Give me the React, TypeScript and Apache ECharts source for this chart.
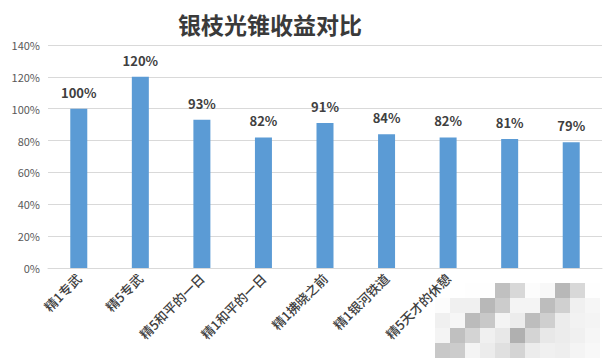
import React, { useEffect, useRef } from "react";
import * as echarts from "echarts";

const titleText = "银枝光锥收益对比";
const categories = [
  "精1专武",
  "精5专武",
  "精5和平的一日",
  "精1和平的一日",
  "精1拂晓之前",
  "精1银河铁道",
  "精5天才的休憩",
  "精1天才的休憩",
  "精5早餐仪式",
];
const values = [100, 120, 93, 82, 91, 84, 82, 81, 79];
const yTicks = [0, 20, 40, 60, 80, 100, 120, 140];

// mosaic overlay (pixelated patch in the reference), grey levels per 15px cell; 0 = none
const mosaicRows = [
  [0, 0, 0xfe, 0xfe, 0xc0, 0xd8, 0xfc, 0xf8, 0xb8, 0xd8, 0xfe],
  [0xfc, 0xf0, 0xf0, 0xb8, 0xcc, 0xf4, 0xf4, 0xbd, 0xd0, 0xf0, 0xf6],
  [0xf0, 0xf6, 0xbb, 0xc8, 0xf4, 0xec, 0xbd, 0xcf, 0xec, 0xf2, 0xf4],
  [0xf4, 0xc0, 0xd4, 0xf0, 0xe8, 0xb0, 0xd4, 0xe8, 0xec, 0xf0, 0xf6],
  [0xc8, 0xcc, 0xf4, 0xec, 0xe0, 0xd4, 0xec, 0xf0, 0xee, 0xf4, 0xf8],
];

export default function App() {
  const ref = useRef<HTMLDivElement>(null);
  useEffect(() => {
    if (!ref.current) return;
    const chart = echarts.init(ref.current, undefined, { renderer: "svg" });
    const font = '"Noto Sans CJK SC", "Noto Sans", sans-serif';
    const mosaic: any[] = [
      {
        type: "rect",
        shape: { x: 468, y: 271, width: 147, height: 12 },
        style: { fill: "#ffffff" },
        z: 100,
      },
    ];
    mosaicRows.forEach((row, r) => {
      row.forEach((v, c) => {
        if (!v) return;
        const h = v.toString(16);
        mosaic.push({
          type: "rect",
          shape: { x: 435 + c * 15, y: 283 + r * 15, width: 15, height: 15 },
          style: { fill: `#${h}${h}${h}` },
          z: 100,
        });
      });
    });
    chart.setOption({
      animation: false,
      backgroundColor: "#ffffff",
      title: {
        text: titleText,
        left: 173,
        top: 7,
        textStyle: {
          fontFamily: font,
          fontSize: 23,
          fontWeight: "bold",
          color: "#3a3a3a",
        },
      },
      grid: { left: 48, right: 13, top: 45, bottom: 90, containLabel: false },
      xAxis: {
        type: "category",
        data: categories,
        axisLine: { lineStyle: { color: "#d9d9d9" } },
        axisTick: { show: false },
        axisLabel: {
          rotate: 45,
          interval: 0,
          margin: 8,
          fontFamily: font,
          fontSize: 13,
          fontWeight: 500,
          color: "#404040",
        },
      },
      yAxis: {
        type: "value",
        min: 0,
        max: 140,
        interval: 20,
        axisLine: { show: false },
        axisTick: { show: false },
        splitLine: { lineStyle: { color: "#d9d9d9" } },
        axisLabel: {
          margin: 8,
          fontFamily: font,
          fontSize: 11,
          color: "#595959",
          formatter: (v: number) => (yTicks.includes(v) ? `${v}%` : ""),
        },
      },
      series: [
        {
          type: "bar",
          data: values,
          barWidth: 17,
          itemStyle: { color: "#5b9bd5" },
          label: {
            show: true,
            position: "top",
            distance: 10,
            formatter: "{c}%",
            fontFamily: font,
            fontSize: 13,
            fontWeight: "bold",
            color: "#404040",
          },
        },
      ],
      graphic: mosaic,
    });
    return () => chart.dispose();
  }, []);
  return <div ref={ref} style={{ width: 615, height: 358, position: "absolute", left: 0, top: 0 }} />;
}
